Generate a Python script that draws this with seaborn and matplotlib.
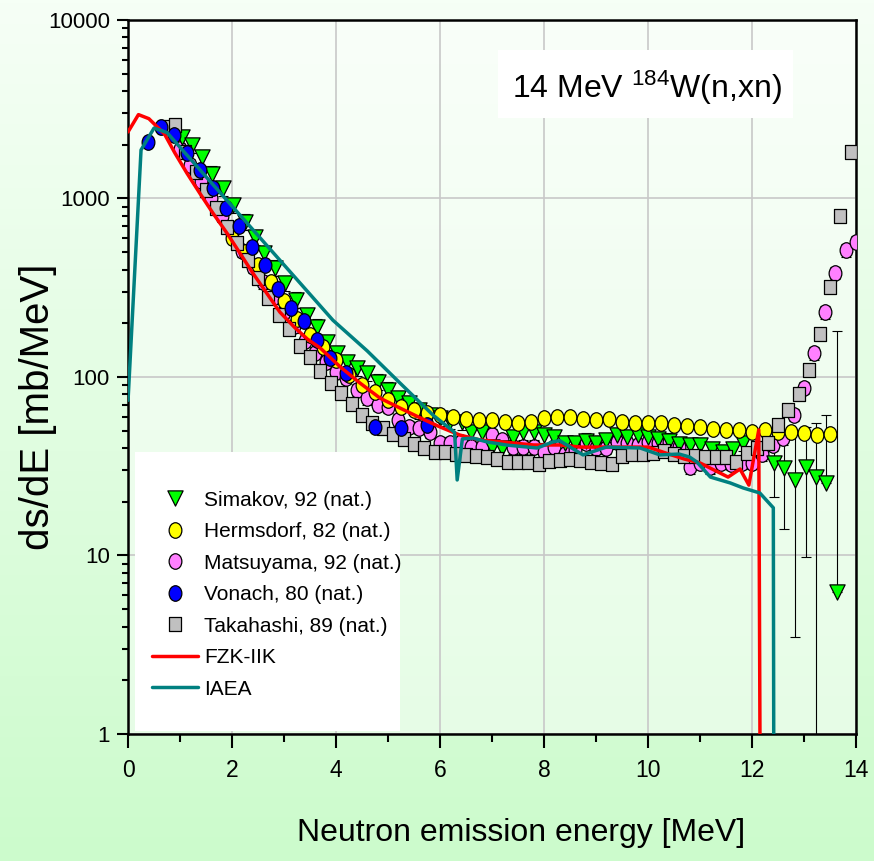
import numpy as np
import matplotlib
matplotlib.use("Agg")
import matplotlib.pyplot as plt
import seaborn as sns
from matplotlib.path import Path
from matplotlib.patches import Rectangle
from matplotlib.transforms import Affine2D
from matplotlib.ticker import LogLocator, NullFormatter, MultipleLocator

# ---------------- data ----------------
sim_E = [1.04, 1.23, 1.42, 1.62, 1.83, 2.02, 2.25, 2.44, 2.62, 2.83, 3.02, 3.23, 3.44, 3.63,
         3.83, 4.02, 4.21, 4.41, 4.6, 4.8, 5.0, 5.2, 5.4, 5.6, 5.8, 6.0, 6.2, 6.42, 6.6, 6.8,
         7.0, 7.2, 7.4, 7.6, 7.8, 8.0, 8.2, 8.4, 8.6, 8.8, 9.0, 9.2, 9.4, 9.6, 9.8, 10.0, 10.2,
         10.4, 10.6, 10.8, 11.0, 11.23, 11.44, 11.63, 11.83,
         12.42, 12.62, 12.83, 13.03, 13.23, 13.43, 13.63]
sim_v = [2210, 1990, 1700, 1380, 1140, 920, 740, 608, 495, 409, 336, 271, 222, 191,
         157, 136, 121, 112, 105, 94, 85, 76, 71.5, 65, 61, 59, 57, 56, 49, 49,
         40.5, 40, 46, 49, 49, 47.3, 46, 42.7, 42.7, 44, 42.7, 44.4, 47.3, 46, 47.3, 46, 45,
         44, 42, 41.6, 41.6, 39.5, 38, 39.5, 42.7,
         33, 30.9, 26.5, 31.3, 27.5, 25.5, 6.25]
sim_rel_err = 0.10
sim_tail_err_lo = [11.7, 16.8, 23.0, 21.5, 27.4, 0.0, 0.0]
sim_tail_err_hi = [11.7, 16.8, 23.0, 21.5, 27.5, 35.5, 175.0]

her_E = [2.0, 2.25, 2.5, 2.75, 3.0, 3.25, 3.5, 3.75, 4.0, 4.25, 4.5, 4.75, 5.0, 5.25, 5.5,
         5.75, 6.0, 6.25, 6.5, 6.75, 7.0, 7.25, 7.5, 7.75, 8.0, 8.25, 8.5, 8.75, 9.0, 9.25,
         9.5, 9.75, 10.0, 10.25, 10.5, 10.75, 11.0, 11.25, 11.5, 11.75, 12.0, 12.25, 12.5,
         12.75, 13.0, 13.25, 13.5]
her_v = [600, 500, 424, 341, 265, 210, 172, 147, 125, 103, 90, 82, 74, 68, 65,
         63, 61, 60, 58, 57.4, 57.4, 56, 55.2, 56, 59, 60, 60, 58, 57.4, 58,
         56, 55.2, 55.2, 55.2, 53.8, 53.2, 52.5, 51.2, 50.5, 50.5, 49.2, 50.5, 49.5,
         49.2, 48.6, 47.3, 48]
her_rel_err = 0.05

mat_E = [1.0, 1.2, 1.4, 1.6, 1.8, 2.0, 2.2, 2.4, 2.6, 2.8, 3.0, 3.2, 3.4, 3.6, 3.8, 4.0, 4.2,
         4.4, 4.6, 4.8, 5.0, 5.2, 5.4, 5.6, 5.8, 6.0, 6.2, 6.4, 6.6, 6.8, 7.0, 7.2, 7.4, 7.6,
         7.8, 8.0, 8.2, 8.4, 8.6, 8.8, 9.0, 9.2, 9.4, 9.6, 9.8, 10.0, 10.2, 10.4, 10.6, 10.8,
         11.0, 11.2, 11.4, 11.6, 11.8, 12.0, 12.2, 12.4, 12.6, 12.8, 13.0, 13.2, 13.4, 13.6,
         13.8, 14.0]
mat_v = [1900, 1550, 1250, 1000, 800, 640, 510, 415, 340, 280, 232, 192, 160, 137, 121, 107, 99,
         85, 76, 70, 68, 57.4, 52.5, 51.8, 49.2, 42.7, 42.7, 43.3, 40.5, 40.5, 47.3, 44.4, 40.5,
         40.5, 40.5, 38, 40.5, 37, 39, 42.7, 40, 40, 43, 42.7, 41.6, 43.3, 42.7, 43, 40.5, 31.3,
         33, 31.3, 33, 32.6, 33, 33, 37, 41.6, 45.5, 61.3, 86.8, 136, 231, 383, 514, 571]
mat_rel_err = 0.08

von_E = [0.38, 0.63, 0.88, 1.13, 1.38, 1.63, 1.88, 2.13, 2.38, 2.63, 2.88, 3.13, 3.38, 3.63,
         3.88, 4.2, 4.75, 5.25, 5.75]
von_v = [2070, 2500, 2270, 1800, 1445, 1150, 885, 701, 535, 424, 310, 244, 205, 161,
         128, 105, 52.5, 51.8, 53.8]
von_rel_err = 0.04

tak_E = [0.7, 0.9, 1.1, 1.3, 1.5, 1.7, 1.9, 2.1, 2.3, 2.5, 2.7, 2.9, 3.1, 3.3, 3.5, 3.7, 3.9,
         4.1, 4.3, 4.5, 4.7, 4.9, 5.1, 5.3, 5.5, 5.7, 5.9, 6.1, 6.3, 6.5, 6.7, 6.9, 7.1, 7.3,
         7.5, 7.7, 7.9, 8.1, 8.3, 8.5, 8.7, 8.9, 9.1, 9.3, 9.5, 9.7, 9.9, 10.1, 10.3, 10.5,
         10.7, 10.9, 11.1, 11.3, 11.5, 11.7, 11.9, 12.1, 12.3, 12.5, 12.7, 12.9, 13.1, 13.3,
         13.5, 13.7, 13.9]
tak_v = [2500, 2570, 1820, 1410, 1110, 890, 690, 565, 452, 359, 277, 222, 186, 149, 130, 108,
         92.5, 81, 70.6, 61, 55, 52, 48, 45, 42, 40, 38, 38, 37, 36.5, 36, 35.5, 34.7, 33.4,
         33.4, 33.4, 32.6, 34, 34.4, 34.7, 34.3, 33.5, 33, 32.5, 36, 37, 37, 37.5, 38.5, 37,
         36, 36, 35.6, 35.6, 35.6, 33.4, 37.5, 40, 42.7, 53.8, 65.3, 80.3, 109, 174,
         319, 798, 1823]
tak_rel_err = 0.06

fzk_E = [0.0, 0.2, 0.4, 0.7, 0.9, 1.13, 1.38, 1.63, 1.9, 2.15, 2.4, 2.67, 2.92, 3.2, 3.45,
         3.7, 4.08, 4.46, 4.85, 5.23, 5.62, 6.0, 6.38, 6.77, 7.4, 7.8, 8.3, 8.7, 9.1, 10.0,
         10.4, 10.7, 11.0, 11.54, 11.77, 11.94, 12.13, 12.18]
fzk_v = [2360, 2950, 2800, 2300, 1800, 1390, 1070, 830, 641, 495, 382, 294, 231, 190, 163,
         145, 114, 92.5, 76, 67, 59, 52.5, 47.3, 44.4, 42.7, 41.6, 41.6, 40.5, 40.5, 40.5,
         37, 34.7, 33, 27.5, 30.5, 24.8, 50.5, 0.01]

iaea_E = [0.0, 0.25, 0.5, 0.75, 3.94, 4.6, 5.23, 5.87, 6.28, 6.33, 6.43, 6.63, 6.9, 7.3, 7.87,
          8.17, 8.3, 8.75, 9.2, 9.85, 10.23, 10.6, 10.8, 10.94, 11.2, 11.58, 11.83, 12.15,
          12.41, 12.43]
iaea_v = [74, 1870, 2480, 2340, 208, 140, 92.5, 61, 49, 26.5, 45, 45.5, 43.3, 41.5, 40,
          43.3, 44, 36.6, 40.5, 40, 36.6, 37, 35.6, 33.4, 27.5, 25.5, 23.9, 22.4,
          18.5, 0.01]

legend_labels = ["Simakov, 92 (nat.)", "Hermsdorf, 82 (nat.)", "Matsuyama, 92 (nat.)",
                 "Vonach, 80 (nat.)", "Takahashi, 89 (nat.)", "FZK-IIK", "IAEA"]
x_ticks = [0, 2, 4, 6, 8, 10, 12, 14]
y_ticks = [1, 10, 100, 1000, 10000]
y_ticklabels = ["1", "10", "100", "1000", "10000"]

# ---------------- style ----------------
sns.set_theme(style="white")
plt.rcParams['font.family'] = ['Liberation Sans', 'DejaVu Sans']
plt.rcParams['axes.unicode_minus'] = False
for k in ['text.color', 'axes.labelcolor', 'xtick.color', 'ytick.color']:
    plt.rcParams[k] = 'black'

fig = plt.figure(figsize=(8.74, 8.61), dpi=100)

# gradient background
bg = fig.add_axes([0, 0, 1, 1], zorder=-10)
g = np.linspace(0, 1, 256)[:, None, None]
top_c = np.array([0.965, 1.0, 0.965])
bot_c = np.array([0.80, 0.985, 0.80])
img = top_c * (1 - g) + bot_c * g
bg.imshow(img, aspect='auto', extent=[0, 1, 0, 1])
bg.axis('off')

ax = fig.add_axes([0.1465, 0.1475, 0.8329, 0.8293])
ax.set_facecolor((1, 1, 1, 0.45))
ax.set_yscale('log')

# markers
ellipse = Path.unit_circle().transformed(Affine2D().scale(0.82, 1.0))
square = Path([(-0.42, -0.5), (0.42, -0.5), (0.42, 0.5), (-0.42, 0.5), (-0.42, -0.5)], closed=True)

def err(vals, rel):
    v = np.asarray(vals, float)
    return [v * rel, v * rel]

eb_kw = dict(fmt='none', ecolor='black', elinewidth=0.8, capsize=3.5, capthick=0.8)

# error bars
sim_arr = np.asarray(sim_v, float)
n_tail = len(sim_tail_err_lo)
sim_lo = np.concatenate([sim_arr[:-n_tail] * sim_rel_err, sim_tail_err_lo])
sim_hi = np.concatenate([sim_arr[:-n_tail] * sim_rel_err, sim_tail_err_hi])
ax.errorbar(sim_E, sim_v, yerr=[sim_lo, sim_hi], zorder=2.6, **eb_kw)
ax.errorbar(her_E, her_v, yerr=err(her_v, her_rel_err), zorder=2.6, **eb_kw)
ax.errorbar(mat_E, mat_v, yerr=err(mat_v, mat_rel_err), zorder=2.6, **eb_kw)
ax.errorbar(von_E, von_v, yerr=err(von_v, von_rel_err), zorder=2.6, **eb_kw)
ax.errorbar(tak_E, tak_v, yerr=err(tak_v, tak_rel_err), zorder=2.6, **eb_kw)

sc_kw = dict(edgecolor='black', linewidth=0.9, ax=ax)
sns.scatterplot(x=mat_E, y=mat_v, marker=ellipse, s=125, color='#ff80ff',
                label=legend_labels[2], zorder=3.0, **sc_kw)
sns.scatterplot(x=sim_E, y=sim_v, marker='v', s=120, color='#00ff00',
                label=legend_labels[0], zorder=3.1, **sc_kw)
sns.scatterplot(x=her_E, y=her_v, marker=ellipse, s=125, color='#ffff00',
                label=legend_labels[1], zorder=3.2, **sc_kw)
sns.scatterplot(x=tak_E, y=tak_v, marker=square, s=110, color='#c0c0c0',
                label=legend_labels[4], zorder=3.3, **sc_kw)
sns.scatterplot(x=von_E, y=von_v, marker=ellipse, s=125, color='#0000ff',
                label=legend_labels[3], zorder=3.4, **sc_kw)

sns.lineplot(x=fzk_E, y=fzk_v, color='#ff0000', lw=2.5, sort=False, estimator=None,
             label=legend_labels[5], ax=ax, zorder=4)
sns.lineplot(x=iaea_E, y=iaea_v, color='#008080', lw=2.5, sort=False, estimator=None,
             label=legend_labels[6], ax=ax, zorder=4.1)

# axes
ax.set_xlim(0, 14)
ax.set_ylim(1, 10000)
ax.set_xticks(x_ticks)
ax.set_xticklabels([str(t) for t in x_ticks])
ax.xaxis.set_minor_locator(MultipleLocator(1))
ax.set_yticks(y_ticks)
ax.set_yticklabels(y_ticklabels)
ax.yaxis.set_minor_locator(LogLocator(base=10, subs=range(2, 10)))
ax.yaxis.set_minor_formatter(NullFormatter())
ax.tick_params(axis='x', which='major', direction='out', length=10, width=1.5,
               labelsize=16.5, pad=8, color='black', bottom=True)
ax.tick_params(axis='x', which='minor', direction='out', length=6, width=1.5, bottom=True)
ax.tick_params(axis='y', which='major', direction='out', length=8, width=1.5,
               labelsize=16, pad=5, color='black', left=True)
ax.tick_params(axis='y', which='minor', direction='out', length=4, width=1.5, left=True)
for sp in ax.spines.values():
    sp.set_visible(True)
    sp.set_color('black')
    sp.set_linewidth(1.8)
ax.grid(True, which='major', color='#c8c8c8', lw=1.2)
ax.set_axisbelow(True)

ax.set_xlabel("Neutron emission energy [MeV]", fontsize=23)
ax.xaxis.set_label_coords(0.54, -0.118)
ax.set_ylabel("ds/dE [mb/MeV]", fontsize=29)
ax.yaxis.set_label_coords(-0.098, 0.458)

# title box
ax.add_patch(Rectangle((0.508, 0.8627), 0.4055, 0.0953, transform=ax.transAxes,
                       facecolor='white', edgecolor='none', zorder=5))
ax.text(0.713, 0.905, r"14 MeV $\mathregular{^{184}}$W(n,xn)", transform=ax.transAxes,
        ha='center', va='center', fontsize=23, zorder=6)

# legend box
ax.add_patch(Rectangle((0.0096, 0.004), 0.364, 0.391, transform=ax.transAxes,
                       facecolor='white', edgecolor='none', zorder=5))
h, l = ax.get_legend_handles_labels()
hd = dict(zip(l, h))
leg = ax.legend([hd[k] for k in legend_labels], legend_labels, loc='upper left',
                bbox_to_anchor=(0.033, 0.341), frameon=False, fontsize=15,
                handlelength=2.2, handletextpad=0.3, labelspacing=0.6,
                borderpad=0, borderaxespad=0, scatteryoffsets=[0.5])
leg.set_zorder(6)

fig.savefig("out.png", dpi=100)
